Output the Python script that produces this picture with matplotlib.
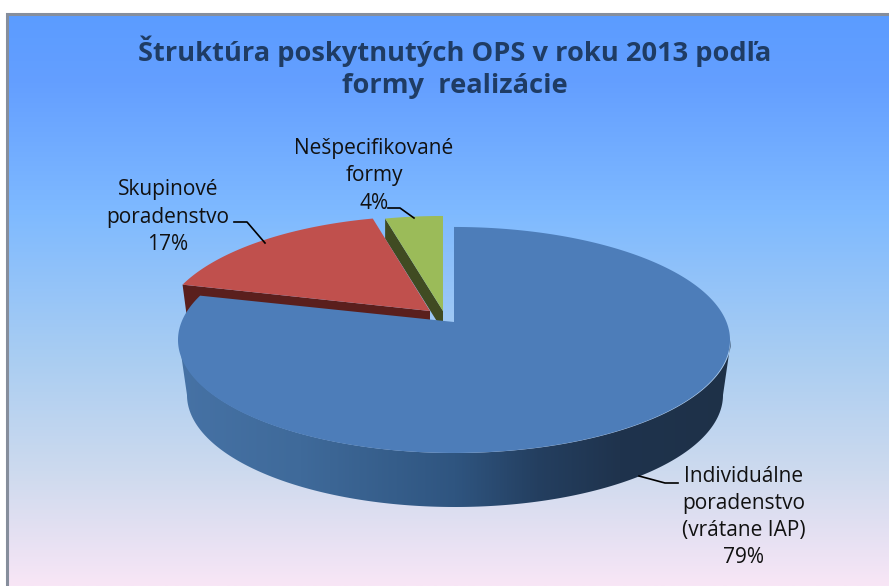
import numpy as np
import matplotlib
matplotlib.use("Agg")
import matplotlib.pyplot as plt
from matplotlib.colors import LinearSegmentedColormap
from matplotlib.patches import Polygon

title = "Štruktúra poskytnutých OPS v roku 2013 podľa\nformy  realizácie"
categories = ["Individuálne\nporadenstvo\n(vrátane IAP)", "Skupinové\nporadenstvo", "Nešpecifikované\nformy"]
values = [79, 17, 4]
percent_labels = ["79%", "17%", "4%"]
top_colors = ["#4d7db9", "#c0504d", "#9bbb59"]
wall_colors = ["#3d6a9e", "#5a1f1d", "#404b22"]

W, H = 889, 586
fig = plt.figure(figsize=(W / 100, H / 100), dpi=100, facecolor="white")
ax = fig.add_axes([0, 0, 1, 1])
ax.set_xlim(0, W)
ax.set_ylim(H, 0)
ax.axis("off")

bg = LinearSegmentedColormap.from_list("bg", [(0, "#5b9cff"), (0.12, "#649fff"), (0.35, "#7fbaff"),
                                              (0.6, "#a9cdf2"), (0.8, "#cddaee"), (1, "#f8e6f6")])
ax.imshow(np.linspace(0, 1, 256)[:, None], cmap=bg, extent=(7, W, H, 14), aspect="auto", zorder=0)
ax.plot([7, 7, W], [H, 14, 14], color="#868e9c", lw=2.2, zorder=1, solid_joinstyle="miter")

fr = np.array(values, float) / sum(values)
edges = np.concatenate([[0], np.cumsum(fr)]) * 2 * np.pi

PERSP = 0.159  # the pie centre sits above the centre of the rim ellipse


def rim(c, rx, ry, a0, a1, n=300):
    """Rim points of a slice, with simple perspective."""
    t = np.linspace(a0, a1, n)
    X, Y = np.sin(t), np.cos(t)
    d = 1 + PERSP * Y
    xp = X * np.sqrt(1 - PERSP ** 2) / d
    yp = (Y + PERSP) / d
    return np.column_stack([c[0] + rx * xp, c[1] + PERSP * ry - ry * yp])


# per-slice geometry: apex, radii
geom = [((454, 322), 276, 113), ((430, 311), 269, 113), ((443, 311), 272, 113)]

# green
c, rx, ry = geom[2]
pts = rim(c, rx, ry, edges[2], edges[3])
left = pts[0]
d = 20
ax.add_patch(Polygon([left, c, (c[0], c[1] + d), (left[0], left[1] + d)], fc=wall_colors[2], ec="none", zorder=3))
ax.add_patch(Polygon(np.vstack([[c], pts]), fc=top_colors[2], ec="none", zorder=4))

# red wall
c, rx, ry = geom[1]
pts = rim(c, rx, ry, edges[1], edges[2])
tip = pts[0]
d = 30
ax.add_patch(Polygon([tip, c, (c[0], c[1] + d), (tip[0] + 4, tip[1] + d)], fc=wall_colors[1], ec="none", zorder=5))

# blue side wall with gradient
c, rx, ry = geom[0]
t = np.linspace(0, np.pi, 300)
cx, cy = 455, 340
upper = np.column_stack([cx + rx * np.cos(t), cy + ry * np.sin(t)])
lower = np.column_stack([cx + 268 * np.cos(t), 395 + 112 * np.sin(t)])
poly = Polygon(np.vstack([upper, lower[::-1]]), fc="none", ec="none", zorder=6)
ax.add_patch(poly)
sidecm = LinearSegmentedColormap.from_list("side", [(0, "#1e3148"), (0.2, "#1f334d"), (0.35, "#243f60"),
                                                    (0.5, "#2f5580"), (0.78, "#3f6a9a"), (1, "#4672a5")])
im = ax.imshow(np.linspace(0, 1, 256)[None, :], cmap=sidecm, aspect="auto", zorder=6,
               extent=(cx + rx, cx - rx, 520, 320))
im.set_clip_path(poly)
ax.set_xlim(0, W)
ax.set_ylim(H, 0)

# blue top
pts = rim(c, rx, ry, edges[0], edges[1], 600)
ax.add_patch(Polygon(np.vstack([[c], pts]), fc=top_colors[0], ec="none", zorder=7))

# red top
c, rx, ry = geom[1]
pts = rim(c, rx, ry, edges[1], edges[2])
ax.add_patch(Polygon(np.vstack([[c], pts]), fc=top_colors[1], ec="none", zorder=8))

font = "Open Sans"
ax.text(455, 67, title, ha="center", va="center", fontsize=19.6, fontweight="bold", color="#1f3c64",
        family=font, linespacing=1.3, zorder=10)

lab = dict(ha="center", va="center", fontsize=15.0, color="#111111", family=font, linespacing=1.38, zorder=10)
ax.text(744, 517, categories[0] + "\n" + percent_labels[0], **lab)
ax.text(168, 217, categories[1] + "\n" + percent_labels[1], **lab)
ax.text(374, 176, categories[2] + "\n" + percent_labels[2], **lab)

leaders = [([639, 665, 678], [476, 483, 483]), ([234, 247, 265], [222, 222, 243]), ([388, 400, 414], [208, 208, 218])]
for xs, ys in leaders:
    ax.plot(xs, ys, color="black", lw=1.2, zorder=9)

fig.savefig("out.png", dpi=100, facecolor="white")
